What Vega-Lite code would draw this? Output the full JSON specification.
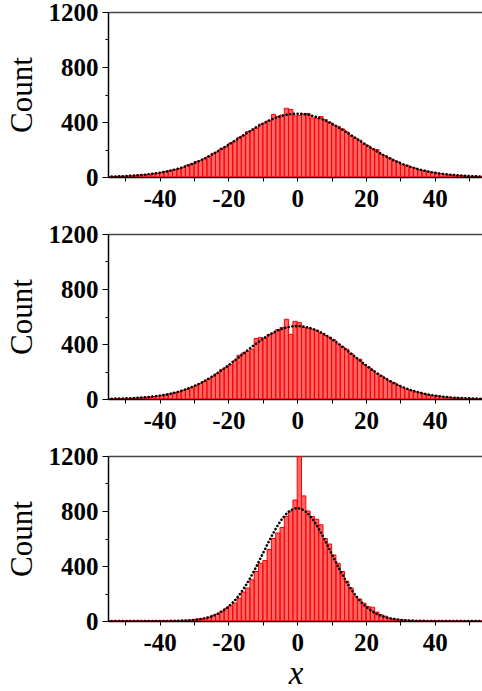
{
"$schema": "https://vega.github.io/schema/vega-lite/v6.json",
"padding": {"left": 6, "top": 0, "right": 0, "bottom": 0},
"spacing": 11,
"config": {
  "view": {"stroke": null},
  "axis": {"grid": false, "domainColor": "black", "domainWidth": 1.5, "tickColor": "black", "tickWidth": 1, "labelColor": "black", "labelFont": "Liberation Serif", "labelFontWeight": "bold", "labelFontSize": 25, "titleFont": "Liberation Serif", "titleColor": "black", "titleFontWeight": "normal"}
},
"datasets": {
"bars": [
{"panel":1,"lo":-55,"hi":-53.75,"count":3},{"panel":1,"lo":-53.75,"hi":-52.5,"count":4},{"panel":1,"lo":-52.5,"hi":-51.25,"count":5},{"panel":1,"lo":-51.25,"hi":-50,"count":6},{"panel":1,"lo":-50,"hi":-48.75,"count":8},{"panel":1,"lo":-48.75,"hi":-47.5,"count":9},{"panel":1,"lo":-47.5,"hi":-46.25,"count":12},{"panel":1,"lo":-46.25,"hi":-45,"count":14},{"panel":1,"lo":-45,"hi":-43.75,"count":17},{"panel":1,"lo":-43.75,"hi":-42.5,"count":20},{"panel":1,"lo":-42.5,"hi":-41.25,"count":25},{"panel":1,"lo":-41.25,"hi":-40,"count":28},{"panel":1,"lo":-40,"hi":-38.75,"count":34},{"panel":1,"lo":-38.75,"hi":-37.5,"count":40},{"panel":1,"lo":-37.5,"hi":-36.25,"count":47},{"panel":1,"lo":-36.25,"hi":-35,"count":55},{"panel":1,"lo":-35,"hi":-33.75,"count":60},{"panel":1,"lo":-33.75,"hi":-32.5,"count":70},{"panel":1,"lo":-32.5,"hi":-31.25,"count":86},{"panel":1,"lo":-31.25,"hi":-30,"count":96},{"panel":1,"lo":-30,"hi":-28.75,"count":112},{"panel":1,"lo":-28.75,"hi":-27.5,"count":118},{"panel":1,"lo":-27.5,"hi":-26.25,"count":132},{"panel":1,"lo":-26.25,"hi":-25,"count":150},{"panel":1,"lo":-25,"hi":-23.75,"count":172},{"panel":1,"lo":-23.75,"hi":-22.5,"count":182},{"panel":1,"lo":-22.5,"hi":-21.25,"count":210},{"panel":1,"lo":-21.25,"hi":-20,"count":220},{"panel":1,"lo":-20,"hi":-18.75,"count":246},{"panel":1,"lo":-18.75,"hi":-17.5,"count":260},{"panel":1,"lo":-17.5,"hi":-16.25,"count":288},{"panel":1,"lo":-16.25,"hi":-15,"count":300},{"panel":1,"lo":-15,"hi":-13.75,"count":330},{"panel":1,"lo":-13.75,"hi":-12.5,"count":338},{"panel":1,"lo":-12.5,"hi":-11.25,"count":356},{"panel":1,"lo":-11.25,"hi":-10,"count":384},{"panel":1,"lo":-10,"hi":-8.75,"count":392},{"panel":1,"lo":-8.75,"hi":-7.5,"count":412},{"panel":1,"lo":-7.5,"hi":-6.25,"count":455},{"panel":1,"lo":-6.25,"hi":-5,"count":440},{"panel":1,"lo":-5,"hi":-3.75,"count":450},{"panel":1,"lo":-3.75,"hi":-2.5,"count":500},{"panel":1,"lo":-2.5,"hi":-1.25,"count":490},{"panel":1,"lo":-1.25,"hi":0,"count":445},
{"panel":1,"lo":0,"hi":1.25,"count":448},{"panel":1,"lo":1.25,"hi":2.5,"count":458},{"panel":1,"lo":2.5,"hi":3.75,"count":462},{"panel":1,"lo":3.75,"hi":5,"count":430},{"panel":1,"lo":5,"hi":6.25,"count":425},{"panel":1,"lo":6.25,"hi":7.5,"count":440},{"panel":1,"lo":7.5,"hi":8.75,"count":418},{"panel":1,"lo":8.75,"hi":10,"count":398},{"panel":1,"lo":10,"hi":11.25,"count":376},{"panel":1,"lo":11.25,"hi":12.5,"count":368},{"panel":1,"lo":12.5,"hi":13.75,"count":350},{"panel":1,"lo":13.75,"hi":15,"count":328},{"panel":1,"lo":15,"hi":16.25,"count":300},{"panel":1,"lo":16.25,"hi":17.5,"count":282},{"panel":1,"lo":17.5,"hi":18.75,"count":268},{"panel":1,"lo":18.75,"hi":20,"count":240},{"panel":1,"lo":20,"hi":21.25,"count":226},{"panel":1,"lo":21.25,"hi":22.5,"count":208},{"panel":1,"lo":22.5,"hi":23.75,"count":200},{"panel":1,"lo":23.75,"hi":25,"count":165},{"panel":1,"lo":25,"hi":26.25,"count":155},{"panel":1,"lo":26.25,"hi":27.5,"count":138},{"panel":1,"lo":27.5,"hi":28.75,"count":118},{"panel":1,"lo":28.75,"hi":30,"count":110},{"panel":1,"lo":30,"hi":31.25,"count":92},{"panel":1,"lo":31.25,"hi":32.5,"count":85},{"panel":1,"lo":32.5,"hi":33.75,"count":70},{"panel":1,"lo":33.75,"hi":35,"count":64},{"panel":1,"lo":35,"hi":36.25,"count":52},{"panel":1,"lo":36.25,"hi":37.5,"count":48},{"panel":1,"lo":37.5,"hi":38.75,"count":38},{"panel":1,"lo":38.75,"hi":40,"count":34},{"panel":1,"lo":40,"hi":41.25,"count":28},{"panel":1,"lo":41.25,"hi":42.5,"count":24},{"panel":1,"lo":42.5,"hi":43.75,"count":19},{"panel":1,"lo":43.75,"hi":45,"count":17},{"panel":1,"lo":45,"hi":46.25,"count":13},{"panel":1,"lo":46.25,"hi":47.5,"count":11},{"panel":1,"lo":47.5,"hi":48.75,"count":9},{"panel":1,"lo":48.75,"hi":50,"count":7},{"panel":1,"lo":50,"hi":51.25,"count":6},{"panel":1,"lo":51.25,"hi":52.5,"count":5},{"panel":1,"lo":52.5,"hi":53.75,"count":4},{"panel":1,"lo":53.75,"hi":55,"count":3},
{"panel":2,"lo":-55,"hi":-53.75,"count":2},{"panel":2,"lo":-53.75,"hi":-52.5,"count":2},{"panel":2,"lo":-52.5,"hi":-51.25,"count":3},{"panel":2,"lo":-51.25,"hi":-50,"count":4},{"panel":2,"lo":-50,"hi":-48.75,"count":5},{"panel":2,"lo":-48.75,"hi":-47.5,"count":6},{"panel":2,"lo":-47.5,"hi":-46.25,"count":8},{"panel":2,"lo":-46.25,"hi":-45,"count":10},{"panel":2,"lo":-45,"hi":-43.75,"count":12},{"panel":2,"lo":-43.75,"hi":-42.5,"count":14},{"panel":2,"lo":-42.5,"hi":-41.25,"count":18},{"panel":2,"lo":-41.25,"hi":-40,"count":22},{"panel":2,"lo":-40,"hi":-38.75,"count":26},{"panel":2,"lo":-38.75,"hi":-37.5,"count":30},{"panel":2,"lo":-37.5,"hi":-36.25,"count":38},{"panel":2,"lo":-36.25,"hi":-35,"count":46},{"panel":2,"lo":-35,"hi":-33.75,"count":52},{"panel":2,"lo":-33.75,"hi":-32.5,"count":62},{"panel":2,"lo":-32.5,"hi":-31.25,"count":72},{"panel":2,"lo":-31.25,"hi":-30,"count":84},{"panel":2,"lo":-30,"hi":-28.75,"count":100},{"panel":2,"lo":-28.75,"hi":-27.5,"count":112},{"panel":2,"lo":-27.5,"hi":-26.25,"count":128},{"panel":2,"lo":-26.25,"hi":-25,"count":148},{"panel":2,"lo":-25,"hi":-23.75,"count":166},{"panel":2,"lo":-23.75,"hi":-22.5,"count":185},{"panel":2,"lo":-22.5,"hi":-21.25,"count":215},{"panel":2,"lo":-21.25,"hi":-20,"count":228},{"panel":2,"lo":-20,"hi":-18.75,"count":250},{"panel":2,"lo":-18.75,"hi":-17.5,"count":278},{"panel":2,"lo":-17.5,"hi":-16.25,"count":318},{"panel":2,"lo":-16.25,"hi":-15,"count":335},{"panel":2,"lo":-15,"hi":-13.75,"count":345},{"panel":2,"lo":-13.75,"hi":-12.5,"count":362},{"panel":2,"lo":-12.5,"hi":-11.25,"count":440},{"panel":2,"lo":-11.25,"hi":-10,"count":448},{"panel":2,"lo":-10,"hi":-8.75,"count":440},{"panel":2,"lo":-8.75,"hi":-7.5,"count":470},{"panel":2,"lo":-7.5,"hi":-6.25,"count":480},{"panel":2,"lo":-6.25,"hi":-5,"count":505},{"panel":2,"lo":-5,"hi":-3.75,"count":520},{"panel":2,"lo":-3.75,"hi":-2.5,"count":580},{"panel":2,"lo":-2.5,"hi":-1.25,"count":470},{"panel":2,"lo":-1.25,"hi":0,"count":565},
{"panel":2,"lo":0,"hi":1.25,"count":555},{"panel":2,"lo":1.25,"hi":2.5,"count":520},{"panel":2,"lo":2.5,"hi":3.75,"count":515},{"panel":2,"lo":3.75,"hi":5,"count":508},{"panel":2,"lo":5,"hi":6.25,"count":500},{"panel":2,"lo":6.25,"hi":7.5,"count":478},{"panel":2,"lo":7.5,"hi":8.75,"count":462},{"panel":2,"lo":8.75,"hi":10,"count":450},{"panel":2,"lo":10,"hi":11.25,"count":430},{"panel":2,"lo":11.25,"hi":12.5,"count":400},{"panel":2,"lo":12.5,"hi":13.75,"count":378},{"panel":2,"lo":13.75,"hi":15,"count":362},{"panel":2,"lo":15,"hi":16.25,"count":330},{"panel":2,"lo":16.25,"hi":17.5,"count":300},{"panel":2,"lo":17.5,"hi":18.75,"count":290},{"panel":2,"lo":18.75,"hi":20,"count":250},{"panel":2,"lo":20,"hi":21.25,"count":232},{"panel":2,"lo":21.25,"hi":22.5,"count":208},{"panel":2,"lo":22.5,"hi":23.75,"count":185},{"panel":2,"lo":23.75,"hi":25,"count":168},{"panel":2,"lo":25,"hi":26.25,"count":150},{"panel":2,"lo":26.25,"hi":27.5,"count":132},{"panel":2,"lo":27.5,"hi":28.75,"count":118},{"panel":2,"lo":28.75,"hi":30,"count":100},{"panel":2,"lo":30,"hi":31.25,"count":85},{"panel":2,"lo":31.25,"hi":32.5,"count":72},{"panel":2,"lo":32.5,"hi":33.75,"count":62},{"panel":2,"lo":33.75,"hi":35,"count":52},{"panel":2,"lo":35,"hi":36.25,"count":48},{"panel":2,"lo":36.25,"hi":37.5,"count":40},{"panel":2,"lo":37.5,"hi":38.75,"count":30},{"panel":2,"lo":38.75,"hi":40,"count":26},{"panel":2,"lo":40,"hi":41.25,"count":22},{"panel":2,"lo":41.25,"hi":42.5,"count":18},{"panel":2,"lo":42.5,"hi":43.75,"count":14},{"panel":2,"lo":43.75,"hi":45,"count":12},{"panel":2,"lo":45,"hi":46.25,"count":9},{"panel":2,"lo":46.25,"hi":47.5,"count":8},{"panel":2,"lo":47.5,"hi":48.75,"count":6},{"panel":2,"lo":48.75,"hi":50,"count":5},{"panel":2,"lo":50,"hi":51.25,"count":4},{"panel":2,"lo":51.25,"hi":52.5,"count":3},{"panel":2,"lo":52.5,"hi":53.75,"count":2},{"panel":2,"lo":53.75,"hi":55,"count":2},
{"panel":3,"lo":-55,"hi":-53.75,"count":0},{"panel":3,"lo":-53.75,"hi":-52.5,"count":0},{"panel":3,"lo":-52.5,"hi":-51.25,"count":0},{"panel":3,"lo":-51.25,"hi":-50,"count":0},{"panel":3,"lo":-50,"hi":-48.75,"count":0},{"panel":3,"lo":-48.75,"hi":-47.5,"count":0},{"panel":3,"lo":-47.5,"hi":-46.25,"count":0},{"panel":3,"lo":-46.25,"hi":-45,"count":1},{"panel":3,"lo":-45,"hi":-43.75,"count":0},{"panel":3,"lo":-43.75,"hi":-42.5,"count":1},{"panel":3,"lo":-42.5,"hi":-41.25,"count":1},{"panel":3,"lo":-41.25,"hi":-40,"count":1},{"panel":3,"lo":-40,"hi":-38.75,"count":1},{"panel":3,"lo":-38.75,"hi":-37.5,"count":2},{"panel":3,"lo":-37.5,"hi":-36.25,"count":2},{"panel":3,"lo":-36.25,"hi":-35,"count":3},{"panel":3,"lo":-35,"hi":-33.75,"count":3},{"panel":3,"lo":-33.75,"hi":-32.5,"count":5},{"panel":3,"lo":-32.5,"hi":-31.25,"count":6},{"panel":3,"lo":-31.25,"hi":-30,"count":8},{"panel":3,"lo":-30,"hi":-28.75,"count":12},{"panel":3,"lo":-28.75,"hi":-27.5,"count":16},{"panel":3,"lo":-27.5,"hi":-26.25,"count":20},{"panel":3,"lo":-26.25,"hi":-25,"count":28},{"panel":3,"lo":-25,"hi":-23.75,"count":42},{"panel":3,"lo":-23.75,"hi":-22.5,"count":50},{"panel":3,"lo":-22.5,"hi":-21.25,"count":72},{"panel":3,"lo":-21.25,"hi":-20,"count":92},{"panel":3,"lo":-20,"hi":-18.75,"count":110},{"panel":3,"lo":-18.75,"hi":-17.5,"count":130},{"panel":3,"lo":-17.5,"hi":-16.25,"count":165},{"panel":3,"lo":-16.25,"hi":-15,"count":210},{"panel":3,"lo":-15,"hi":-13.75,"count":240},{"panel":3,"lo":-13.75,"hi":-12.5,"count":300},{"panel":3,"lo":-12.5,"hi":-11.25,"count":360},{"panel":3,"lo":-11.25,"hi":-10,"count":420},{"panel":3,"lo":-10,"hi":-8.75,"count":440},{"panel":3,"lo":-8.75,"hi":-7.5,"count":520},{"panel":3,"lo":-7.5,"hi":-6.25,"count":600},{"panel":3,"lo":-6.25,"hi":-5,"count":640},{"panel":3,"lo":-5,"hi":-3.75,"count":680},{"panel":3,"lo":-3.75,"hi":-2.5,"count":760},{"panel":3,"lo":-2.5,"hi":-1.25,"count":800},{"panel":3,"lo":-1.25,"hi":0,"count":880},
{"panel":3,"lo":0,"hi":1.25,"count":1200},{"panel":3,"lo":1.25,"hi":2.5,"count":910},{"panel":3,"lo":2.5,"hi":3.75,"count":800},{"panel":3,"lo":3.75,"hi":5,"count":760},{"panel":3,"lo":5,"hi":6.25,"count":740},{"panel":3,"lo":6.25,"hi":7.5,"count":700},{"panel":3,"lo":7.5,"hi":8.75,"count":600},{"panel":3,"lo":8.75,"hi":10,"count":560},{"panel":3,"lo":10,"hi":11.25,"count":480},{"panel":3,"lo":11.25,"hi":12.5,"count":420},{"panel":3,"lo":12.5,"hi":13.75,"count":360},{"panel":3,"lo":13.75,"hi":15,"count":290},{"panel":3,"lo":15,"hi":16.25,"count":240},{"panel":3,"lo":16.25,"hi":17.5,"count":180},{"panel":3,"lo":17.5,"hi":18.75,"count":160},{"panel":3,"lo":18.75,"hi":20,"count":130},{"panel":3,"lo":20,"hi":21.25,"count":105},{"panel":3,"lo":21.25,"hi":22.5,"count":100},{"panel":3,"lo":22.5,"hi":23.75,"count":65},{"panel":3,"lo":23.75,"hi":25,"count":45},{"panel":3,"lo":25,"hi":26.25,"count":35},{"panel":3,"lo":26.25,"hi":27.5,"count":22},{"panel":3,"lo":27.5,"hi":28.75,"count":15},{"panel":3,"lo":28.75,"hi":30,"count":10},{"panel":3,"lo":30,"hi":31.25,"count":8},{"panel":3,"lo":31.25,"hi":32.5,"count":6},{"panel":3,"lo":32.5,"hi":33.75,"count":4},{"panel":3,"lo":33.75,"hi":35,"count":3},{"panel":3,"lo":35,"hi":36.25,"count":2},{"panel":3,"lo":36.25,"hi":37.5,"count":2},{"panel":3,"lo":37.5,"hi":38.75,"count":1},{"panel":3,"lo":38.75,"hi":40,"count":1},{"panel":3,"lo":40,"hi":41.25,"count":1},{"panel":3,"lo":41.25,"hi":42.5,"count":0},{"panel":3,"lo":42.5,"hi":43.75,"count":1},{"panel":3,"lo":43.75,"hi":45,"count":0},{"panel":3,"lo":45,"hi":46.25,"count":0},{"panel":3,"lo":46.25,"hi":47.5,"count":0},{"panel":3,"lo":47.5,"hi":48.75,"count":0},{"panel":3,"lo":48.75,"hi":50,"count":0},{"panel":3,"lo":50,"hi":51.25,"count":0},{"panel":3,"lo":51.25,"hi":52.5,"count":0},{"panel":3,"lo":52.5,"hi":53.75,"count":0},{"panel":3,"lo":53.75,"hi":55,"count":0}
],
"fit": [
{"panel":1,"x":-55,"y":2.8},{"panel":1,"x":-52.5,"y":4.4},{"panel":1,"x":-50,"y":6.7},{"panel":1,"x":-47.5,"y":10.2},{"panel":1,"x":-45,"y":15},{"panel":1,"x":-42.5,"y":21.7},{"panel":1,"x":-40,"y":30.8},{"panel":1,"x":-37.5,"y":42.7},{"panel":1,"x":-35,"y":58},{"panel":1,"x":-32.5,"y":77},{"panel":1,"x":-30,"y":100.5},{"panel":1,"x":-27.5,"y":128},{"panel":1,"x":-25,"y":160},{"panel":1,"x":-22.5,"y":196},{"panel":1,"x":-20,"y":234},{"panel":1,"x":-17.5,"y":274},{"panel":1,"x":-15,"y":314},{"panel":1,"x":-12.5,"y":353},{"panel":1,"x":-10,"y":388},{"panel":1,"x":-7.5,"y":418},{"panel":1,"x":-5,"y":441},{"panel":1,"x":-2.5,"y":455},{"panel":1,"x":0,"y":460},{"panel":1,"x":2.5,"y":455},{"panel":1,"x":5,"y":441},{"panel":1,"x":7.5,"y":418},{"panel":1,"x":10,"y":388},{"panel":1,"x":12.5,"y":353},{"panel":1,"x":15,"y":314},{"panel":1,"x":17.5,"y":274},{"panel":1,"x":20,"y":234},{"panel":1,"x":22.5,"y":196},{"panel":1,"x":25,"y":160},{"panel":1,"x":27.5,"y":128},{"panel":1,"x":30,"y":100.5},{"panel":1,"x":32.5,"y":77},{"panel":1,"x":35,"y":58},{"panel":1,"x":37.5,"y":42.7},{"panel":1,"x":40,"y":30.8},{"panel":1,"x":42.5,"y":21.7},{"panel":1,"x":45,"y":15},{"panel":1,"x":47.5,"y":10.2},{"panel":1,"x":50,"y":6.7},{"panel":1,"x":52.5,"y":4.4},{"panel":1,"x":55,"y":2.8},
{"panel":2,"x":-55,"y":1.5},{"panel":2,"x":-52.5,"y":2.6},{"panel":2,"x":-50,"y":4.3},{"panel":2,"x":-47.5,"y":6.8},{"panel":2,"x":-45,"y":10.7},{"panel":2,"x":-42.5,"y":16.3},{"panel":2,"x":-40,"y":24.2},{"panel":2,"x":-37.5,"y":35.2},{"panel":2,"x":-35,"y":49.9},{"panel":2,"x":-32.5,"y":69.1},{"panel":2,"x":-30,"y":93.4},{"panel":2,"x":-27.5,"y":123},{"panel":2,"x":-25,"y":158.7},{"panel":2,"x":-22.5,"y":199.6},{"panel":2,"x":-20,"y":245},{"panel":2,"x":-17.5,"y":293.6},{"panel":2,"x":-15,"y":343},{"panel":2,"x":-12.5,"y":392},{"panel":2,"x":-10,"y":437},{"panel":2,"x":-7.5,"y":475.5},{"panel":2,"x":-5,"y":505},{"panel":2,"x":-2.5,"y":523.6},{"panel":2,"x":0,"y":530},{"panel":2,"x":2.5,"y":523.6},{"panel":2,"x":5,"y":505},{"panel":2,"x":7.5,"y":475.5},{"panel":2,"x":10,"y":437},{"panel":2,"x":12.5,"y":392},{"panel":2,"x":15,"y":343},{"panel":2,"x":17.5,"y":293.6},{"panel":2,"x":20,"y":245},{"panel":2,"x":22.5,"y":199.6},{"panel":2,"x":25,"y":158.7},{"panel":2,"x":27.5,"y":123},{"panel":2,"x":30,"y":93.4},{"panel":2,"x":32.5,"y":69.1},{"panel":2,"x":35,"y":49.9},{"panel":2,"x":37.5,"y":35.2},{"panel":2,"x":40,"y":24.2},{"panel":2,"x":42.5,"y":16.3},{"panel":2,"x":45,"y":10.7},{"panel":2,"x":47.5,"y":6.8},{"panel":2,"x":50,"y":4.3},{"panel":2,"x":52.5,"y":2.6},{"panel":2,"x":55,"y":1.5},
{"panel":3,"x":-55,"y":0},{"panel":3,"x":-52.5,"y":0},{"panel":3,"x":-50,"y":0},{"panel":3,"x":-47.5,"y":0},{"panel":3,"x":-45,"y":0},{"panel":3,"x":-42.5,"y":0},{"panel":3,"x":-40,"y":0.2},{"panel":3,"x":-37.5,"y":0.6},{"panel":3,"x":-35,"y":1.5},{"panel":3,"x":-32.5,"y":3.5},{"panel":3,"x":-30,"y":7.9},{"panel":3,"x":-27.5,"y":16.6},{"panel":3,"x":-25,"y":32.7},{"panel":3,"x":-22.5,"y":60.4},{"panel":3,"x":-20,"y":104.3},{"panel":3,"x":-17.5,"y":169},{"panel":3,"x":-15,"y":257},{"panel":3,"x":-12.5,"y":366.5},{"panel":3,"x":-10,"y":489.7},{"panel":3,"x":-7.5,"y":613.6},{"panel":3,"x":-5,"y":721},{"panel":3,"x":-2.5,"y":794},{"panel":3,"x":0,"y":820},{"panel":3,"x":2.5,"y":794},{"panel":3,"x":5,"y":721},{"panel":3,"x":7.5,"y":613.6},{"panel":3,"x":10,"y":489.7},{"panel":3,"x":12.5,"y":366.5},{"panel":3,"x":15,"y":257},{"panel":3,"x":17.5,"y":169},{"panel":3,"x":20,"y":104.3},{"panel":3,"x":22.5,"y":60.4},{"panel":3,"x":25,"y":32.7},{"panel":3,"x":27.5,"y":16.6},{"panel":3,"x":30,"y":7.9},{"panel":3,"x":32.5,"y":3.5},{"panel":3,"x":35,"y":1.5},{"panel":3,"x":37.5,"y":0.6},{"panel":3,"x":40,"y":0.2},{"panel":3,"x":42.5,"y":0},{"panel":3,"x":45,"y":0},{"panel":3,"x":47.5,"y":0},{"panel":3,"x":50,"y":0},{"panel":3,"x":52.5,"y":0},{"panel":3,"x":55,"y":0}
]
},
"vconcat": [
{
 "width": 375, "height": 165,
 "resolve": {"axis": {"x": "independent", "y": "independent"}},
 "layer": [
  {"data": {"name": "bars"}, "transform": [{"filter": "datum.panel === 1"}],
   "mark": {"type": "rect", "fill": "#ff0000", "fillOpacity": 0.6, "stroke": "#ff0000", "strokeWidth": 1, "clip": true},
   "encoding": {
    "x": {"field": "lo", "type": "quantitative", "scale": {"domain": [-55, 54], "nice": false, "zero": false},
          "axis": {"values": [-50,-40,-30,-20,-10,0,10,20,30,40,50], "labelExpr": "datum.value % 20 === 0 ? '' + datum.value : ''", "tickSize": 4, "labelPadding": 5, "title": null}},
    "x2": {"field": "hi"},
    "y": {"field": "count", "type": "quantitative", "scale": {"domain": [0, 1200], "nice": false},
          "axis": {"values": [0,200,400,600,800,1000,1200], "format": "d", "labelExpr": "datum.value % 400 === 0 ? datum.label : ''", "tickSize": {"condition": {"test": "datum.value % 400 === 0", "value": 6}, "value": 3}, "labelPadding": 4, "title": "Count", "titleFontSize": 31, "titlePadding": 10}}
   }},
  {"data": {"name": "fit"}, "transform": [{"filter": "datum.panel === 1"}],
   "mark": {"type": "line", "color": "black", "strokeWidth": 2.6, "strokeDash": [0.1, 3.6], "strokeCap": "round", "interpolate": "monotone", "clip": true},
   "encoding": {
    "x": {"field": "x", "type": "quantitative", "axis": {"orient": "top", "labels": false, "ticks": false, "title": null, "domainColor": "#444", "domainWidth": 1.5}},
    "y": {"field": "y", "type": "quantitative", "axis": null}
   }}
 ]
},
{
 "width": 375, "height": 165,
 "resolve": {"axis": {"x": "independent", "y": "independent"}},
 "layer": [
  {"data": {"name": "bars"}, "transform": [{"filter": "datum.panel === 2"}],
   "mark": {"type": "rect", "fill": "#ff0000", "fillOpacity": 0.6, "stroke": "#ff0000", "strokeWidth": 1, "clip": true},
   "encoding": {
    "x": {"field": "lo", "type": "quantitative", "scale": {"domain": [-55, 54], "nice": false, "zero": false},
          "axis": {"values": [-50,-40,-30,-20,-10,0,10,20,30,40,50], "labelExpr": "datum.value % 20 === 0 ? '' + datum.value : ''", "tickSize": 4, "labelPadding": 5, "title": null}},
    "x2": {"field": "hi"},
    "y": {"field": "count", "type": "quantitative", "scale": {"domain": [0, 1200], "nice": false},
          "axis": {"values": [0,200,400,600,800,1000,1200], "format": "d", "labelExpr": "datum.value % 400 === 0 ? datum.label : ''", "tickSize": {"condition": {"test": "datum.value % 400 === 0", "value": 6}, "value": 3}, "labelPadding": 4, "title": "Count", "titleFontSize": 31, "titlePadding": 10}}
   }},
  {"data": {"name": "fit"}, "transform": [{"filter": "datum.panel === 2"}],
   "mark": {"type": "line", "color": "black", "strokeWidth": 2.6, "strokeDash": [0.1, 3.6], "strokeCap": "round", "interpolate": "monotone", "clip": true},
   "encoding": {
    "x": {"field": "x", "type": "quantitative", "axis": {"orient": "top", "labels": false, "ticks": false, "title": null, "domainColor": "#444", "domainWidth": 1.5}},
    "y": {"field": "y", "type": "quantitative", "axis": null}
   }}
 ]
},
{
 "width": 375, "height": 165,
 "resolve": {"axis": {"x": "independent", "y": "independent"}},
 "layer": [
  {"data": {"name": "bars"}, "transform": [{"filter": "datum.panel === 3"}],
   "mark": {"type": "rect", "fill": "#ff0000", "fillOpacity": 0.6, "stroke": "#ff0000", "strokeWidth": 1, "clip": true},
   "encoding": {
    "x": {"field": "lo", "type": "quantitative", "scale": {"domain": [-55, 54], "nice": false, "zero": false},
          "axis": {"values": [-50,-40,-30,-20,-10,0,10,20,30,40,50], "labelExpr": "datum.value % 20 === 0 ? '' + datum.value : ''", "tickSize": 4, "labelPadding": 5, "title": "x", "titleFontSize": 33, "titleFontStyle": "italic", "titlePadding": 2}},
    "x2": {"field": "hi"},
    "y": {"field": "count", "type": "quantitative", "scale": {"domain": [0, 1200], "nice": false},
          "axis": {"values": [0,200,400,600,800,1000,1200], "format": "d", "labelExpr": "datum.value % 400 === 0 ? datum.label : ''", "tickSize": {"condition": {"test": "datum.value % 400 === 0", "value": 6}, "value": 3}, "labelPadding": 4, "title": "Count", "titleFontSize": 31, "titlePadding": 10}}
   }},
  {"data": {"name": "fit"}, "transform": [{"filter": "datum.panel === 3"}],
   "mark": {"type": "line", "color": "black", "strokeWidth": 2.6, "strokeDash": [0.1, 3.6], "strokeCap": "round", "interpolate": "monotone", "clip": true},
   "encoding": {
    "x": {"field": "x", "type": "quantitative", "axis": {"orient": "top", "labels": false, "ticks": false, "title": null, "domainColor": "#444", "domainWidth": 1.5}},
    "y": {"field": "y", "type": "quantitative", "axis": null}
   }}
 ]
}
]
}
